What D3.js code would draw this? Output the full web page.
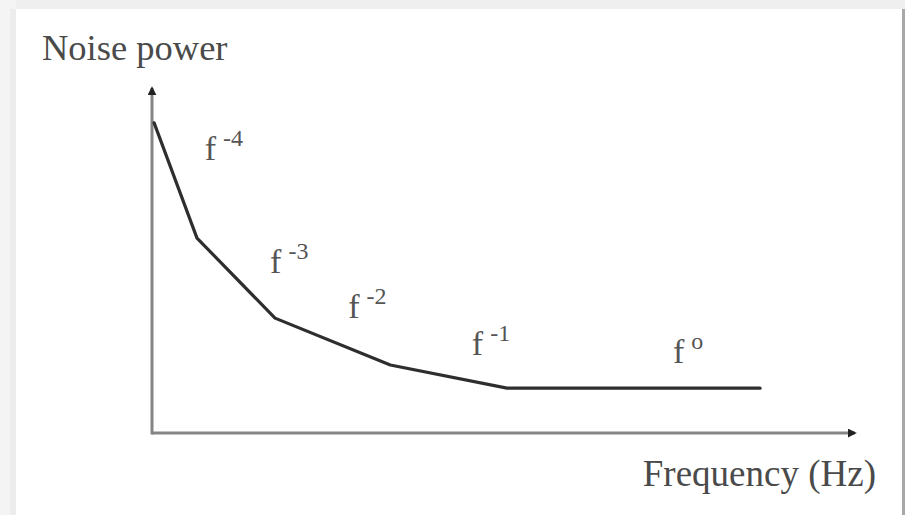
<!DOCTYPE html>
<html>
<head>
<meta charset="utf-8">
<script src="https://cdn.jsdelivr.net/npm/d3@7"></script>
<style>
  html, body { margin: 0; padding: 0; background: #ffffff; }
  svg { display: block; }
  text { font-family: "Liberation Serif", "Times New Roman", serif; }
</style>
</head>
<body>
<svg id="chart" width="905" height="515"></svg>
<script>
// Noise power spectrum: piecewise power-law segments (arbitrary units)
const freq  = [0.3, 6.4, 17.5, 33.9, 50.5, 86.5];
const power = [89.9, 56.5, 33.3, 19.7, 13.0, 13.0];

// Segment labels f^n and their anchor points (data units)
const exponents = ["-4", "-3", "-2", "-1", "o"];
const labelFreq  = [7.5, 16.8, 27.9, 45.5, 74.1];
const labelPower = [79.1, 46.4, 33.3, 22.6, 20.3];

const yTitle = "Noise power";
const xTitle = "Frequency (Hz)";

const W = 905, H = 515;
const svg = d3.select("#chart");

// page frame
svg.append("rect").attr("x", 0).attr("y", 0).attr("width", W).attr("height", 9).attr("fill", "#efefef");
svg.append("rect").attr("x", 0).attr("y", 0).attr("width", 16).attr("height", H).attr("fill", "#f4f4f4");
svg.append("rect").attr("x", 10).attr("y", 9).attr("width", 6).attr("height", H - 9).attr("fill", "#ececec");
svg.append("rect").attr("x", 902).attr("y", 9).attr("width", 3).attr("height", H - 9).attr("fill", "#a8a8a8");

const x = d3.scaleLinear().domain([0, 100]).range([152, 855]);
const y = d3.scaleLinear().domain([0, 100]).range([433, 88]);

const axisColor = "#858585";

// arrowhead
const defs = svg.append("defs");
defs.append("marker")
  .attr("id", "arrow")
  .attr("viewBox", "0 0 10 10")
  .attr("refX", 8).attr("refY", 5)
  .attr("markerWidth", 3).attr("markerHeight", 3)
  .attr("orient", "auto")
  .append("path")
  .attr("d", "M0,0 L10,5 L0,10 Z")
  .attr("fill", "#222");

// axes without ticks
const gx = svg.append("g").attr("transform", `translate(0,${y(0)})`)
  .call(d3.axisBottom(x).ticks(0).tickSize(0).tickSizeOuter(0));
const gy = svg.append("g").attr("transform", `translate(${x(0)},0)`)
  .call(d3.axisLeft(y).ticks(0).tickSize(0).tickSizeOuter(0));
[gx, gy].forEach(g => {
  g.selectAll("text").remove();
  g.select(".domain")
    .attr("stroke", axisColor)
    .attr("stroke-width", 3);
});
gx.select(".domain").attr("d", `M${x(0)},0H${x(100)}`).attr("marker-end", "url(#arrow)");
gy.select(".domain").attr("d", `M0,${y(0) + 1.5}V${y(100)}`).attr("marker-end", "url(#arrow)");

// spectrum curve
const pts = freq.map((f, i) => [f, power[i]]);
svg.append("path")
  .datum(pts)
  .attr("fill", "none")
  .attr("stroke", "#2e2e2e")
  .attr("stroke-width", 3.2)
  .attr("stroke-linejoin", "round")
  .attr("stroke-linecap", "round")
  .attr("d", d3.line().x(d => x(d[0])).y(d => y(d[1])));

// segment labels
exponents.forEach((e, i) => {
  const t = svg.append("text")
    .attr("x", x(labelFreq[i]))
    .attr("y", y(labelPower[i]))
    .attr("fill", "#555")
    .attr("font-size", 34);
  t.append("tspan").text("f");
  t.append("tspan")
    .attr("dx", 7)
    .attr("dy", -14)
    .attr("font-size", 24)
    .text(e);
});

// axis titles
svg.append("text")
  .attr("x", 42).attr("y", 60)
  .attr("fill", "#4a4a4a")
  .attr("font-size", 36.5)
  .text(yTitle);

svg.append("text")
  .attr("x", 876).attr("y", 486)
  .attr("text-anchor", "end")
  .attr("fill", "#4a4a4a")
  .attr("font-size", 37)
  .text(xTitle);
</script>
</body>
</html>
